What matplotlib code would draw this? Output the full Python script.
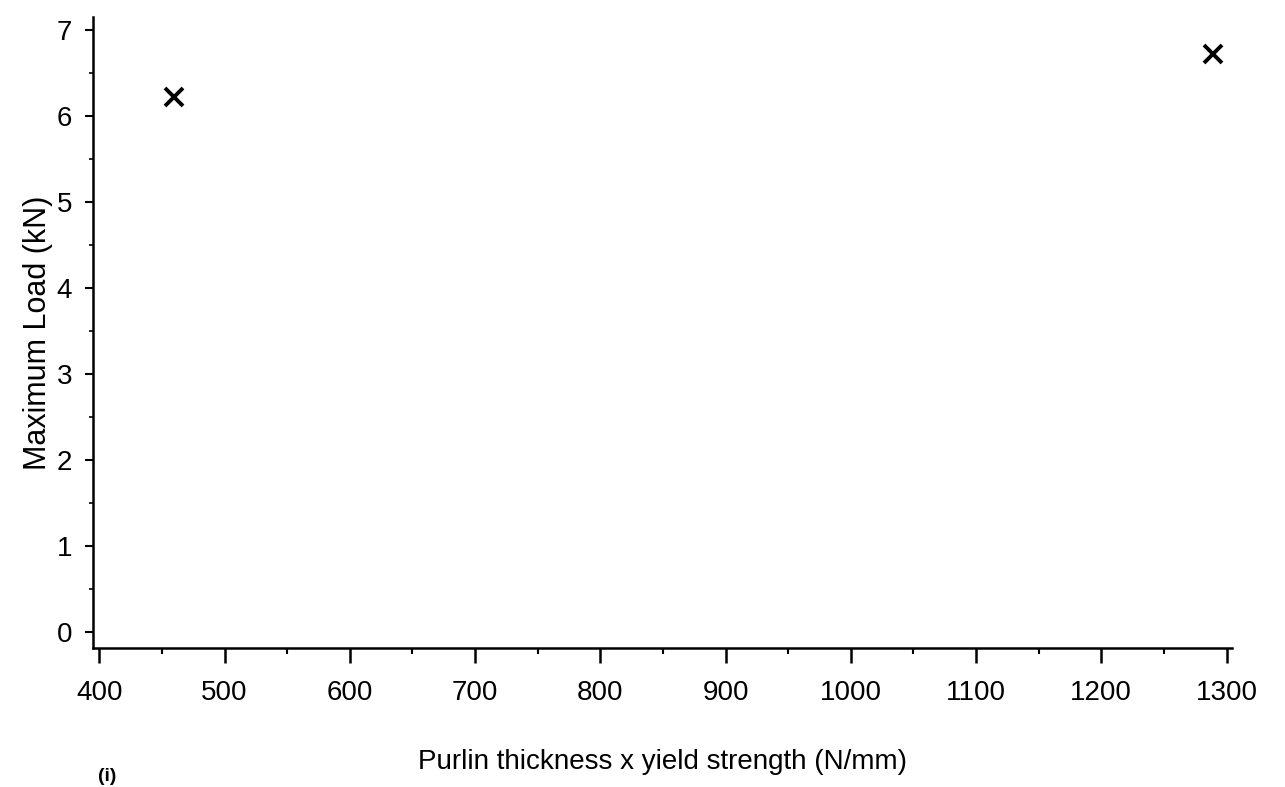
import numpy as np
import matplotlib.pyplot as plt
from matplotlib.ticker import MultipleLocator

# purlin test results
capacity = [460, 1289]      # thickness x yield strength (N/mm)
max_load = [6.22, 6.72]     # kN

x_ticks = [400, 500, 600, 700, 800, 900, 1000, 1100, 1200, 1300]
y_ticks = [0, 1, 2, 3, 4, 5, 6, 7]

plt.rcParams['font.family'] = ['Liberation Sans', 'DejaVu Sans']

fig = plt.figure(figsize=(12.85, 7.87), dpi=100)
ax = fig.add_axes([0.0724, 0.1766, 0.886, 0.8018])

ax.plot(capacity, max_load, 'x', color='black', markersize=13, mew=2.8)

ax.set_xlim(395, 1304)
ax.set_ylim(-0.19, 7.15)
ax.set_xticks(x_ticks)
ax.set_yticks(y_ticks)
ax.xaxis.set_minor_locator(MultipleLocator(50))
ax.yaxis.set_minor_locator(MultipleLocator(0.5))

for s in ['top', 'right']:
    ax.spines[s].set_visible(False)
for s in ['left', 'bottom']:
    ax.spines[s].set_linewidth(1.8)

ax.tick_params(axis='x', which='major', length=11, width=1.8, pad=12, labelsize=20)
ax.tick_params(axis='x', which='minor', length=4, width=1.5)
ax.tick_params(axis='y', which='major', length=6, width=1.5, pad=9, labelsize=20)
ax.tick_params(axis='y', which='minor', length=3, width=1.2)

ax.set_xlabel('Purlin thickness x yield strength (N/mm)', fontsize=20, labelpad=31)
ax.set_ylabel('Maximum Load (kN)', fontsize=22, labelpad=3)

# panel label in the bottom-left corner
fig.text(0.076, 0.002, '(i)', fontsize=14, fontweight='bold', va='bottom', ha='left')

fig.savefig('out.png', dpi=100, facecolor='white')
